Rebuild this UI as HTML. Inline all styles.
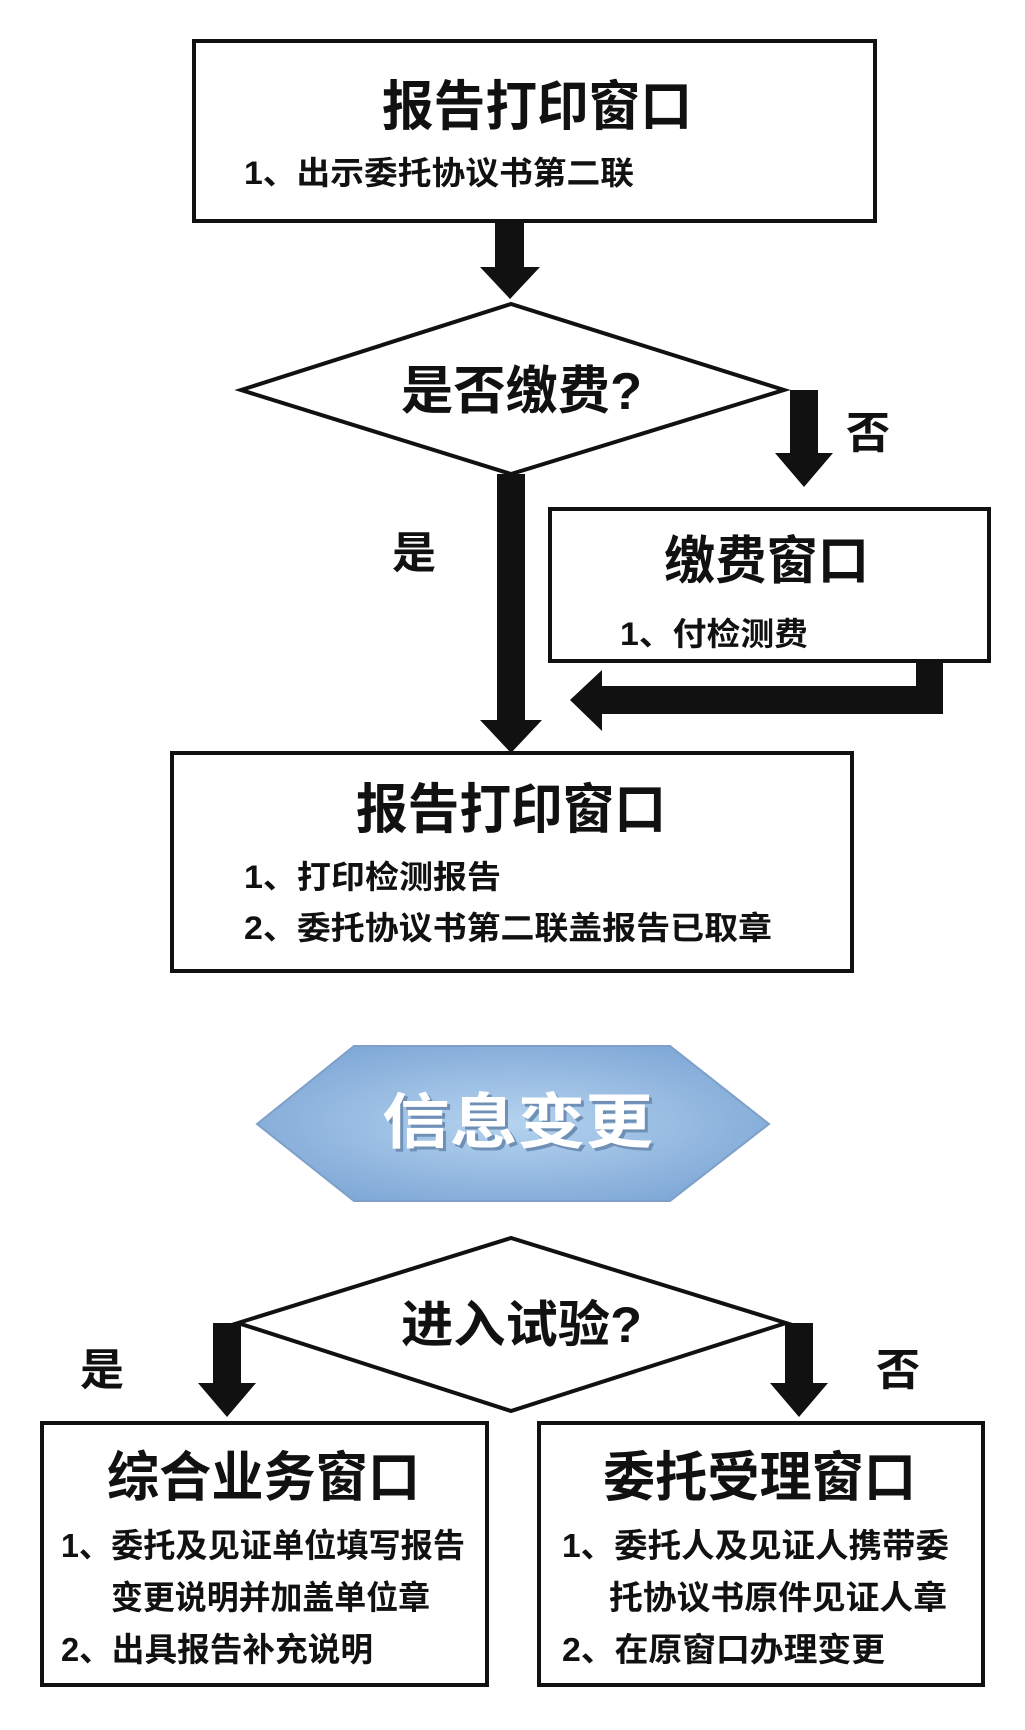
<!DOCTYPE html>
<html><head><meta charset="utf-8"><style>
html,body{margin:0;padding:0;background:#fff;}
svg{display:block;}
text{font-family:"Liberation Sans","Noto Sans CJK SC",sans-serif;font-weight:bold;fill:#111;}
</style></head><body>
<svg width="1025" height="1730" viewBox="0 0 1025 1730" xmlns="http://www.w3.org/2000/svg">
<defs>
<radialGradient id="hg" cx="50%" cy="50%" r="60%">
<stop offset="0" stop-color="#b5d3ef"/><stop offset="1" stop-color="#7ea7d6"/>
</radialGradient>
</defs>
<g stroke="#111" stroke-width="4" fill="#fff">
<rect x="194" y="41" width="681" height="180"/>
<polygon points="241,390 511,304 784,390 511,474"/>
<rect x="550" y="509" width="439" height="152"/>
<rect x="172" y="753" width="680" height="218"/>
<polygon points="238,1323 511,1238 786,1323 511,1411"/>
<rect x="42" y="1423" width="445" height="262"/>
<rect x="539" y="1423" width="444" height="262"/>
</g>
<polygon points="257,1124 354,1046 670,1046 769,1124 670,1201 354,1201" fill="url(#hg)" stroke="#7ea0c8" stroke-width="2"/>
<g fill="#111">
<rect x="495" y="221" width="29" height="48"/><polygon points="480,267 540,267 510,299"/>
<rect x="790" y="390" width="28" height="65"/><polygon points="775,453 833,453 804,487"/>
<rect x="497" y="474" width="28" height="248"/><polygon points="480,720 542,720 511,753"/>
<rect x="916" y="661" width="27" height="53"/><rect x="600" y="686" width="343" height="28"/><polygon points="602,670 602,731 570,700"/>
<rect x="213" y="1323" width="28" height="62"/><polygon points="198,1383 256,1383 227,1417"/>
<rect x="785" y="1323" width="28" height="62"/><polygon points="770,1383 828,1383 799,1417"/>
</g>
<g lengthAdjust="spacingAndGlyphs">
<text x="382" y="125" font-size="54" textLength="310" lengthAdjust="spacingAndGlyphs">报告打印窗口</text>
<text x="244" y="184" font-size="32" textLength="390" lengthAdjust="spacingAndGlyphs">1、出示委托协议书第二联</text>
<text x="401" y="409" font-size="52" textLength="241" lengthAdjust="spacingAndGlyphs">是否缴费?</text>
<text x="846" y="448" font-size="44">否</text>
<text x="664" y="579" font-size="52" textLength="205" lengthAdjust="spacingAndGlyphs">缴费窗口</text>
<text x="620" y="645" font-size="32" textLength="188" lengthAdjust="spacingAndGlyphs">1、付检测费</text>
<text x="392" y="568" font-size="44">是</text>
<text x="356" y="828" font-size="54" textLength="310" lengthAdjust="spacingAndGlyphs">报告打印窗口</text>
<text x="244" y="888" font-size="32" textLength="257" lengthAdjust="spacingAndGlyphs">1、打印检测报告</text>
<text x="244" y="939" font-size="32" textLength="528" lengthAdjust="spacingAndGlyphs">2、委托协议书第二联盖报告已取章</text>
<text x="385" y="1146" font-size="60" textLength="271" lengthAdjust="spacingAndGlyphs" style="fill:#6f8fb5">信息变更</text>
<text x="382" y="1143" font-size="60" textLength="271" lengthAdjust="spacingAndGlyphs" style="fill:#fff">信息变更</text>
<text x="401" y="1342" font-size="50" textLength="241" lengthAdjust="spacingAndGlyphs">进入试验?</text>
<text x="80" y="1385" font-size="44">是</text>
<text x="876" y="1385" font-size="44">否</text>
<text x="107" y="1496" font-size="54" textLength="313" lengthAdjust="spacingAndGlyphs">综合业务窗口</text>
<text x="61" y="1557" font-size="33" textLength="404" lengthAdjust="spacingAndGlyphs">1、委托及见证单位填写报告</text>
<text x="111" y="1609" font-size="33" textLength="319" lengthAdjust="spacingAndGlyphs">变更说明并加盖单位章</text>
<text x="61" y="1661" font-size="33" textLength="312" lengthAdjust="spacingAndGlyphs">2、出具报告补充说明</text>
<text x="603" y="1496" font-size="54" textLength="313" lengthAdjust="spacingAndGlyphs">委托受理窗口</text>
<text x="562" y="1557" font-size="33" textLength="387" lengthAdjust="spacingAndGlyphs">1、委托人及见证人携带委</text>
<text x="609" y="1609" font-size="33" textLength="338" lengthAdjust="spacingAndGlyphs">托协议书原件见证人章</text>
<text x="562" y="1661" font-size="33" textLength="323" lengthAdjust="spacingAndGlyphs">2、在原窗口办理变更</text>
</g>
</svg>
</body></html>
